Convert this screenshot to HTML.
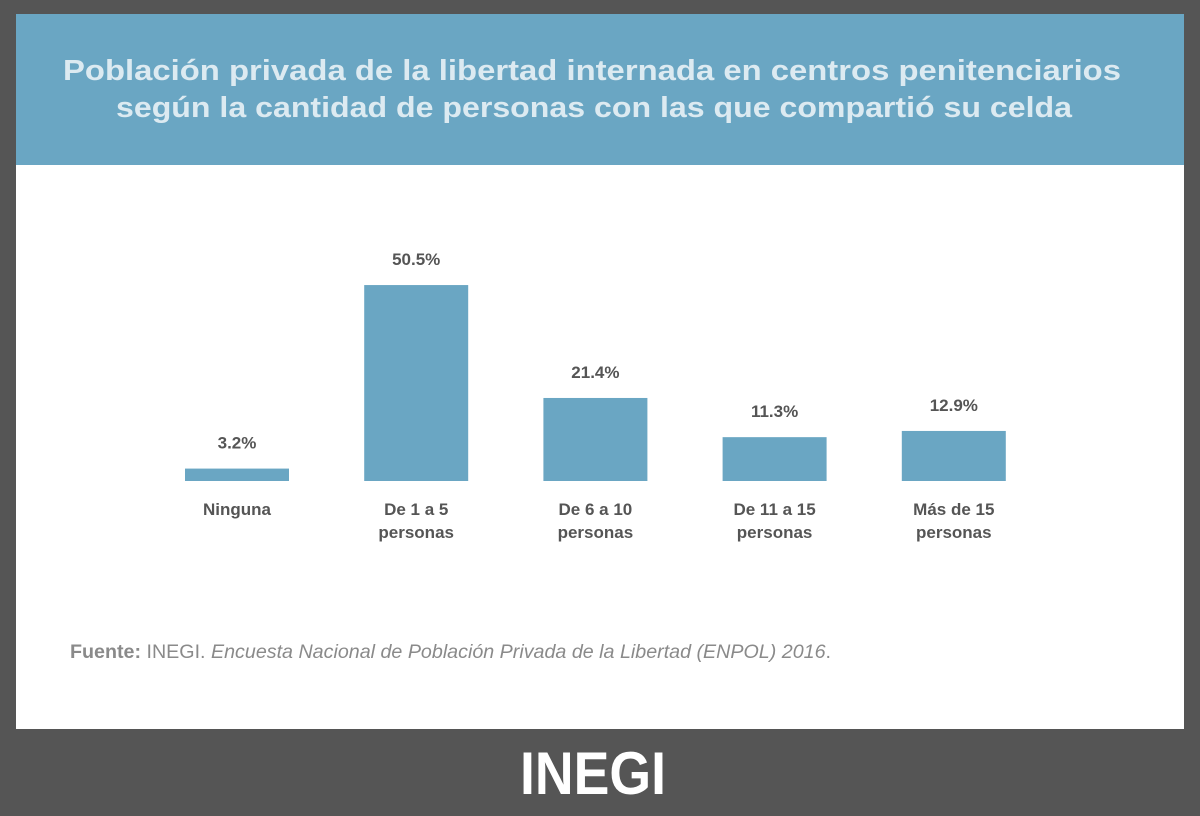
<!DOCTYPE html>
<html><head><meta charset="utf-8"><style>
html,body{margin:0;padding:0;background:#555555;}
svg{display:block;font-family:"Liberation Sans",sans-serif;}
</style></head><body>
<svg width="1200" height="816" viewBox="0 0 1200 816">
<rect x="0" y="0" width="1200" height="816" fill="#555555"/>
<rect x="16" y="14" width="1168" height="715" fill="#ffffff"/>
<rect x="16" y="14" width="1168" height="151" fill="#6aa6c3"/>
<text x="592" y="80" text-anchor="middle" font-size="29" font-weight="bold" fill="#dceaf1" textLength="1058" lengthAdjust="spacingAndGlyphs">Población privada de la libertad internada en centros penitenciarios</text>
<text x="594" y="117" text-anchor="middle" font-size="29" font-weight="bold" fill="#dceaf1" textLength="956" lengthAdjust="spacingAndGlyphs">según la cantidad de personas con las que compartió su celda</text>
<g id="bars"></g>
<text x="70" y="658" font-size="19" fill="#8a8a8a" textLength="761" lengthAdjust="spacingAndGlyphs"><tspan font-weight="bold">Fuente:</tspan> INEGI. <tspan font-style="italic">Encuesta Nacional de Población Privada de la Libertad (ENPOL) 2016</tspan>.</text>
<text x="593" y="794" text-anchor="middle" font-size="60" font-weight="bold" fill="#ffffff" textLength="146" lengthAdjust="spacingAndGlyphs">INEGI</text>
</svg>
<script>
const categoriesLine1 = ["Ninguna","De 1 a 5","De 6 a 10","De 11 a 15","Más de 15"];
const categoriesLine2 = ["","personas","personas","personas","personas"];
const values = [3.2, 50.5, 21.4, 11.3, 12.9];
const valueLabels = ["3.2%","50.5%","21.4%","11.3%","12.9%"];

const NS = "http://www.w3.org/2000/svg";
const baseY = 481, pxPer = 3.88, barW = 104, x0 = 185, step = 179.2;
const xPos = i => x0 + i * step;
const yPos = v => baseY - v * pxPer;
const g = document.getElementById("bars");
function mk(tag, attrs){const e=document.createElementNS(NS,tag);for(const k in attrs)e.setAttribute(k,attrs[k]);return e;}
values.forEach((v,i)=>{
  const x = xPos(i), y = yPos(v), cx = x + barW/2;
  const r = mk("rect",{x:x,y:y,width:barW,height:baseY-y,fill:"#6aa6c3"});
  
  
  g.appendChild(r);
  const t = mk("text",{x:cx,y:y-20,"text-anchor":"middle","font-size":"17","font-weight":"bold",fill:"#555555"});
  t.textContent = valueLabels[i];
  
  
  g.appendChild(t);
  const c1 = mk("text",{x:cx,y:515,"text-anchor":"middle","font-size":"17","font-weight":"bold",fill:"#555555"});
  c1.textContent = categoriesLine1[i];
  
  
  g.appendChild(c1);
  if(categoriesLine2[i]){
    const c2 = mk("text",{x:cx,y:538,"text-anchor":"middle","font-size":"17","font-weight":"bold",fill:"#555555"});
    c2.textContent = categoriesLine2[i];
    
    
    g.appendChild(c2);
  }
});
</script>
</body></html>
